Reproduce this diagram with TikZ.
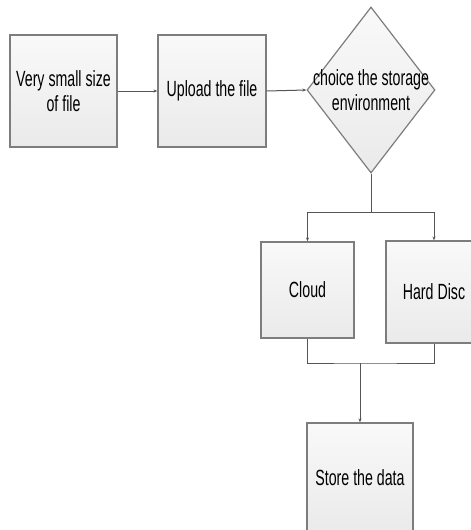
\documentclass[tikz,border=0pt]{standalone}
\usepackage{fontspec}
\setmainfont{Liberation Sans}[FakeStretch=0.645]
\usetikzlibrary{shapes.geometric,arrows.meta}
\definecolor{edgegray}{RGB}{125,125,125}
\definecolor{linegray}{RGB}{85,85,85}
\definecolor{filltop}{RGB}{249,249,249}
\definecolor{fillbot}{RGB}{234,234,234}
\tikzset{
  procbox/.style={draw=edgegray, line width=1.2pt, top color=filltop, bottom color=fillbot,
    rectangle, inner sep=0pt, align=center, font=\fontsize{22}{25}\selectfont},
  decision/.style={draw=edgegray, line width=1.2pt, top color=filltop, bottom color=fillbot,
    diamond, inner sep=0pt},
  label/.style={inner sep=0pt, align=center, font=\fontsize{22}{25}\selectfont},
  conn/.style={draw=linegray, line width=1pt},
  arr/.style={conn, -{Stealth[length=4pt,width=3pt]}}
}
\begin{document}
\begin{tikzpicture}[x=1pt,y=-1pt]
  \useasboundingbox (0,0) rectangle (471,530);
  \clip (0,0) rectangle (471,530);
  \fill[white] (0,0) rectangle (471,530);

  % process steps
  \node[procbox, minimum width=107pt, minimum height=112pt] (small) at (63.5,91) {Very small size\\of file};
  \node[procbox, minimum width=108pt, minimum height=112pt] (upload) at (212,91) {Upload the file};
  \node[decision, minimum width=128pt, minimum height=166pt] (choice) at (371,90) {};
  \node[label] (choicetext) at (choice.center) {choice the storage\\environment};
  \node[procbox, minimum width=93pt, minimum height=96pt] (cloud) at (307.5,290) {Cloud};
  \node[procbox, minimum width=96pt, minimum height=102pt] (disc) at (434,292) {Hard Disc};
  \node[procbox, minimum width=106pt, minimum height=110pt] (store) at (360,478) {Store the data};

  % branch and merge points
  \coordinate (split) at (371,212);
  \coordinate (merge) at (360,363);

  % connectors
  \draw[arr] (small.east) -- (upload.west);
  \draw[arr] (upload.east) -- (choice.west);
  \draw[conn] (choice.south) -- (split);
  \draw[arr] (split) -| (cloud.north);
  \draw[arr] (split) -| (disc.north);
  \draw[conn] (cloud.south) |- (merge) -| (disc.south);
  \draw[arr] (merge) -- (store.north);
\end{tikzpicture}
\end{document}
